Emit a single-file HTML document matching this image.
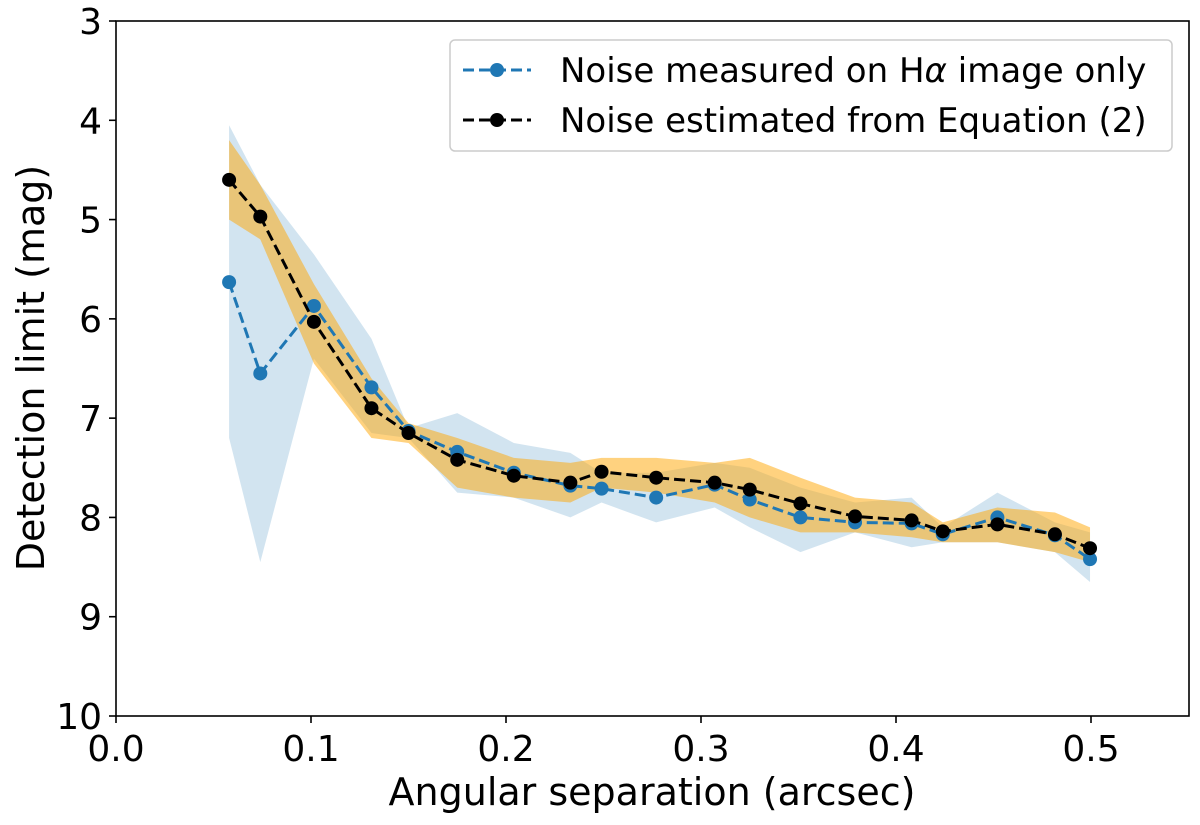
<!DOCTYPE html>
<html><head><meta charset="utf-8"><style>
body{margin:0;background:#fff}
svg text{font-family:"DejaVu Sans","Liberation Sans",sans-serif;fill:#000}
</style></head><body>
<svg id="chart" width="1200" height="820" xmlns="http://www.w3.org/2000/svg">
<g id="bands"></g><g id="lines"></g><g id="axes"></g>
</svg>
<script>
const xs=[0.058,0.074,0.1015,0.131,0.150,0.175,0.204,0.233,0.249,0.277,0.307,0.325,0.351,0.379,0.408,0.424,0.452,0.4815,0.4995];
const blueY=[5.63,6.55,5.87,6.69,7.13,7.34,7.55,7.68,7.71,7.8,7.67,7.82,8.0,8.05,8.06,8.17,8.0,8.18,8.42];
const blackY=[4.6,4.97,6.03,6.9,7.15,7.42,7.58,7.65,7.54,7.6,7.65,7.72,7.86,7.99,8.03,8.14,8.07,8.17,8.31];
const blueLo=[4.05,4.65,5.35,6.2,7.1,6.95,7.25,7.35,7.55,7.55,7.45,7.5,7.7,7.85,7.8,8.1,7.75,8.05,8.15];
const blueHi=[7.2,8.45,6.4,7.15,7.2,7.75,7.8,8.0,7.85,8.05,7.9,8.1,8.35,8.15,8.3,8.25,8.25,8.35,8.65];
const orLo=[4.2,4.65,5.65,6.6,7.05,7.2,7.4,7.45,7.4,7.4,7.45,7.4,7.6,7.8,7.85,8.05,7.9,7.95,8.1];
const orHi=[5.0,5.2,6.45,7.2,7.25,7.7,7.8,7.85,7.7,7.75,7.85,8.0,8.15,8.15,8.2,8.25,8.25,8.35,8.45];
const xTicks=[0.0,0.1,0.2,0.3,0.4,0.5];
const yTicks=[3,4,5,6,7,8,9,10];
const L=116,R=1189,T=21,B=716;
const X=v=>L+v*1950, Y=v=>T+(v-3)*(B-T)/7;
const NS='http://www.w3.org/2000/svg';
function mk(tag,attrs,parent,txt){const e=document.createElementNS(NS,tag);for(const k in attrs)e.setAttribute(k,attrs[k]);if(txt!==undefined)e.textContent=txt;parent.appendChild(e);return e;}
const bands=document.getElementById('bands'),lines=document.getElementById('lines'),axes=document.getElementById('axes');
function band(lo,hi,fill,name){let p=xs.map((x,i)=>X(x)+','+Y(lo[i])).concat(xs.map((x,i)=>X(x)+','+Y(hi[i])).reverse());
const e=mk('polygon',{points:p.join(' '),fill:fill},bands);

}
band(blueLo,blueHi,'rgba(31,119,180,0.2)','blue-uncertainty-band');
band(orLo,orHi,'rgba(255,165,0,0.5)','orange-uncertainty-band');
function series(ys,color,name){const e=mk('polyline',{points:xs.map((x,i)=>X(x)+','+Y(ys[i])).join(' '),fill:'none',stroke:color,'stroke-width':3,'stroke-dasharray':'11,5'},lines);


xs.forEach((x,i)=>{const c=mk('circle',{cx:X(x),cy:Y(ys[i]),r:7,fill:color},lines);

});}
series(blueY,'#1f77b4','blue-series');
series(blackY,'#000','black-series');
const fr=mk('rect',{x:L,y:T,width:R-L,height:B-T,fill:'none',stroke:'#000','stroke-width':1.6},axes);


xTicks.forEach(t=>{mk('line',{x1:X(t),x2:X(t),y1:B,y2:B+7,stroke:'#000','stroke-width':1.6},axes);
const e=mk('text',{x:X(t),y:B+45,'font-size':36,'text-anchor':'middle'},axes,t.toFixed(1));

});
yTicks.forEach(t=>{mk('line',{x1:L-7,x2:L,y1:Y(t),y2:Y(t),stroke:'#000','stroke-width':1.6},axes);
const e=mk('text',{x:L-14,y:Y(t)+13,'font-size':36,'text-anchor':'end'},axes,String(t));

});
</script>
<svg width="1200" height="820" style="position:absolute;left:0;top:0" xmlns="http://www.w3.org/2000/svg">
<text x="652" y="805" font-size="38" text-anchor="middle">Angular separation (arcsec)</text>
<text transform="translate(44,368) rotate(-90)" font-size="38" text-anchor="middle">Detection limit (mag)</text>
<g>
<rect x="450" y="40" width="722" height="111" rx="5" fill="#fff" fill-opacity="0.8" stroke="#ccc" stroke-width="1.5"/>
<g>
<line x1="463" y1="70" x2="531" y2="70" stroke="#1f77b4" stroke-width="3" stroke-dasharray="11,5"/>
<circle cx="497" cy="70" r="7" fill="#1f77b4"/>
<text x="560" y="82" font-size="34">Noise measured on H<tspan font-style="italic">α</tspan> image only</text></g>
<g>
<line x1="463" y1="120" x2="531" y2="120" stroke="#000" stroke-width="3" stroke-dasharray="11,5"/>
<circle cx="497" cy="120" r="7" fill="#000"/>
<text x="560" y="132" font-size="34">Noise estimated from Equation (2)</text></g>
</g>
</svg>
</body></html>
